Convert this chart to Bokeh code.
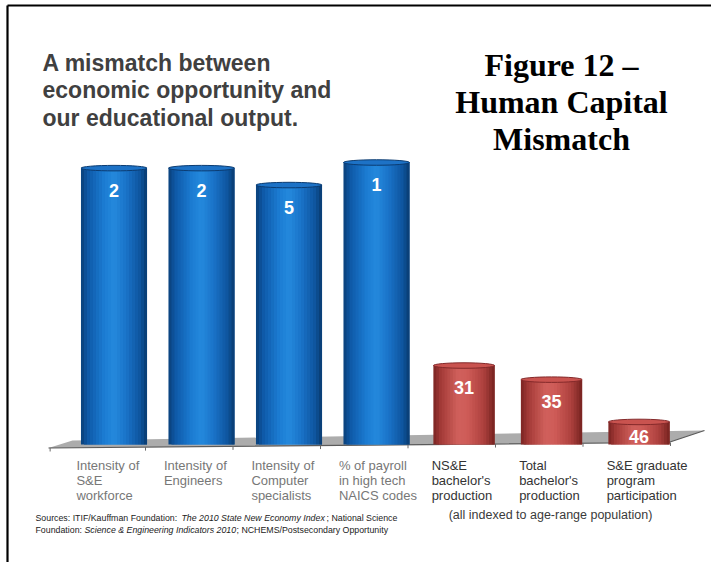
import numpy as np
from bokeh.plotting import figure
from bokeh.models import Range1d, ColumnDataSource
from bokeh.embed import file_html
from bokeh.resources import INLINE
from bokeh.core.properties import value

# ---------------- data ----------------
blue_labels = [["Intensity of", "S&E", "workforce"],
               ["Intensity of", "Engineers"],
               ["Intensity of", "Computer", "specialists"],
               ["% of payroll", "in high tech", "NAICS codes"]]
red_labels = [["NS&E", "bachelor's", "production"],
              ["Total", "bachelor's", "production"],
              ["S&E graduate", "program", "participation"]]
blue_ranks = [2, 2, 5, 1]
red_ranks = [31, 35, 46]
# relative bar heights (index, tallest bar = 100)
blue_index = [98, 98, 92, 100]
red_index = [28, 23, 8]

title_lines = ["A mismatch between", "economic opportunity and", "our educational output."]
fig_lines = ["Figure 12 \u2013", "Human Capital", "Mismatch"]
note_text = "(all indexed to age-range population)"
source_l1 = ["Sources: ITIF/Kauffman Foundation: ", "The 2010 State New Economy Index", "; National Science"]
source_l2 = ["Foundation: ", "Science & Engineering Indicators 2010", "; NCHEMS/Postsecondary Opportunity"]

# ---------------- geometry / scales ----------------
W, H = 711, 562
PX_X = 87.5           # pixels per category step
X_C3 = 376.0          # pixel of category index 3
X0 = 3 - X_C3 / PX_X
X1 = X0 + W / PX_X
PX_Y = 2.82           # pixels per index unit
BASE_PX = 444.0
Y1 = BASE_PX / PX_Y
Y0 = Y1 - H / PX_Y

def dx(px):
    return X0 + px / PX_X

def dy(py):
    return Y1 - py / PX_Y

p = figure(width=W, height=H, x_range=Range1d(X0, X1), y_range=Range1d(Y0, Y1),
           output_backend="svg", toolbar_location=None, min_border=0,
           background_fill_color="white", border_fill_color="white")
p.axis.visible = False
p.grid.visible = False
p.outline_line_color = None

# frame lines (top and left)
p.line([dx(7), dx(711)], [dy(5), dy(5)], line_color="black", line_width=2.2)
p.line([dx(7), dx(7)], [dy(5), dy(562)], line_color="black", line_width=2.2)

# floor
floor_x = [dx(48), dx(72), dx(704), dx(668)]
floor_y = [dy(447.5), dy(440), dy(430), dy(442)]
p.patch(floor_x, floor_y, fill_color="#acacac", line_color=None)
p.line([dx(48), dx(668), dx(704)], [dy(447.5), dy(442), dy(430)], line_color="#5a5a5a", line_width=1.2)

def hex2rgb(h):
    h = h.lstrip("#")
    return np.array([int(h[i:i + 2], 16) for i in (0, 2, 4)], dtype=float)

def grad(stops, t):
    ts = [s[0] for s in stops]
    cs = [hex2rgb(s[1]) for s in stops]
    for i in range(len(ts) - 1):
        if ts[i] <= t <= ts[i + 1]:
            f = (t - ts[i]) / (ts[i + 1] - ts[i])
            c = cs[i] * (1 - f) + cs[i + 1] * f
            return "#%02x%02x%02x" % tuple(int(round(v)) for v in c)
    return stops[-1][1]

blue_stops = [(0, "#0a3f78"), (0.1, "#0e58a6"), (0.35, "#1c7cd3"), (0.5, "#2489dd"),
              (0.68, "#1a73c9"), (0.9, "#0e549d"), (1, "#093a6e")]
red_stops = [(0, "#7a2422"), (0.12, "#a33a37"), (0.4, "#d0605c"), (0.55, "#cf5c58"),
             (0.82, "#ad413e"), (1, "#76221f")]

def draw_group(idx, vals, width, stops, cap_fill, cap_line):
    idx = np.asarray(idx, dtype=float)
    vals = np.asarray(vals, dtype=float)
    n = 22
    sw = width / n
    for k in range(n):
        t = (k + 0.5) / n
        left = idx - width / 2 + k * sw
        right = idx - width / 2 + min(k + 2, n) * sw
        src = ColumnDataSource(dict(l=left, r=right, top=vals, b=np.zeros_like(vals)))
        c = grad(stops, t)
        p.quad(left="l", right="r", top="top", bottom="b", source=src,
               fill_color=c, line_color=None)
    cap = ColumnDataSource(dict(x=idx, y=vals))
    p.ellipse(x="x", y="y", width=width, height=5.5 / PX_Y, source=cap,
              fill_color=cap_fill, line_color=cap_line, line_width=1)

blue_idx = list(range(len(blue_index)))
red_idx = [len(blue_index) + i for i in range(len(red_index))]
draw_group(blue_idx, blue_index, 0.755, blue_stops, "#1d72c6", "#0b3c72")
draw_group(red_idx, red_index, 0.70, red_stops, "#c9534f", "#84292a")

# small ticks under the floor edge
tick_idx = np.array([-0.73] + [i + 0.36 for i in blue_idx] + [i + 0.36 for i in red_idx])
for tx in tick_idx:
    pxx = X_C3 + (tx - 3) * PX_X
    yb = 447.5 - (pxx - 48) * (5.5 / 620)
    p.line([tx, tx], [dy(yb), dy(yb + 3.5)], line_color="#6a6a6a", line_width=1)

# value labels (white, inside bars)
all_idx = blue_idx + red_idx
all_vals = blue_index + red_index
all_ranks = blue_ranks + red_ranks
offs = [min(22.0, 0.63 * v * PX_Y) for v in all_vals]
lab_src = ColumnDataSource(dict(x=all_idx, y=all_vals, t=[str(r) for r in all_ranks], off=offs))
p.text(x="x", y="y", text="t", y_offset="off", source=lab_src, text_color="white",
       text_font=value("Liberation Sans"), text_font_style="bold", text_font_size="18px",
       text_align="center", text_baseline="middle")

# category labels
def cat_text(idxs, labels, shift, color, y_first, style):
    xs, ys, ts = [], [], []
    for i, lines in zip(idxs, labels):
        for j, ln in enumerate(lines):
            xs.append(i + shift)
            ys.append(dy(y_first + j * 15.2))
            ts.append(ln)
    p.text(x=xs, y=ys, text=ts, text_color=color, text_font=value("Liberation Sans"),
           text_font_style=style, text_font_size="13px", text_align="left", text_baseline="middle")

cat_text(blue_idx, blue_labels, -0.43, "#777777", 464.5, "normal")
cat_text(red_idx, red_labels, -0.37, "#333333", 464.5, "normal")

# note
p.text(x=[dx(550)], y=[dy(514)], text=[note_text], text_color="#3a3a3a",
       text_font=value("Liberation Sans"), text_font_size="12.5px",
       text_align="center", text_baseline="middle")

# title (left)
p.text(x=[dx(42)] * 3, y=[dy(62), dy(89.5), dy(117)], text=title_lines, text_color="#404040",
       text_font=value("Liberation Sans"), text_font_style="bold", text_font_size="23px",
       text_align="left", text_baseline="middle")

# figure caption (right)
p.text(x=[dx(561)] * 3, y=[dy(64), dy(101), dy(138)], text=fig_lines, text_color="black",
       text_font=value("Liberation Serif"), text_font_style="bold", text_font_size="32px",
       text_align="center", text_baseline="middle")

# sources
src_x1 = [dx(35), dx(181), dx(326)]
src_x2 = [dx(35), dx(84), dx(236)]
styles = ["normal", "italic", "normal"]
for k in range(3):
    p.text(x=[src_x1[k]], y=[dy(517)], text=[source_l1[k]], text_color="#222222",
           text_font=value("Liberation Sans"), text_font_style=styles[k], text_font_size="8.8px",
           text_align="left", text_baseline="middle")
    p.text(x=[src_x2[k]], y=[dy(529)], text=[source_l2[k]], text_color="#222222",
           text_font=value("Liberation Sans"), text_font_style=styles[k], text_font_size="8.8px",
           text_align="left", text_baseline="middle")

open("out.html", "w").write(file_html(p, INLINE))
